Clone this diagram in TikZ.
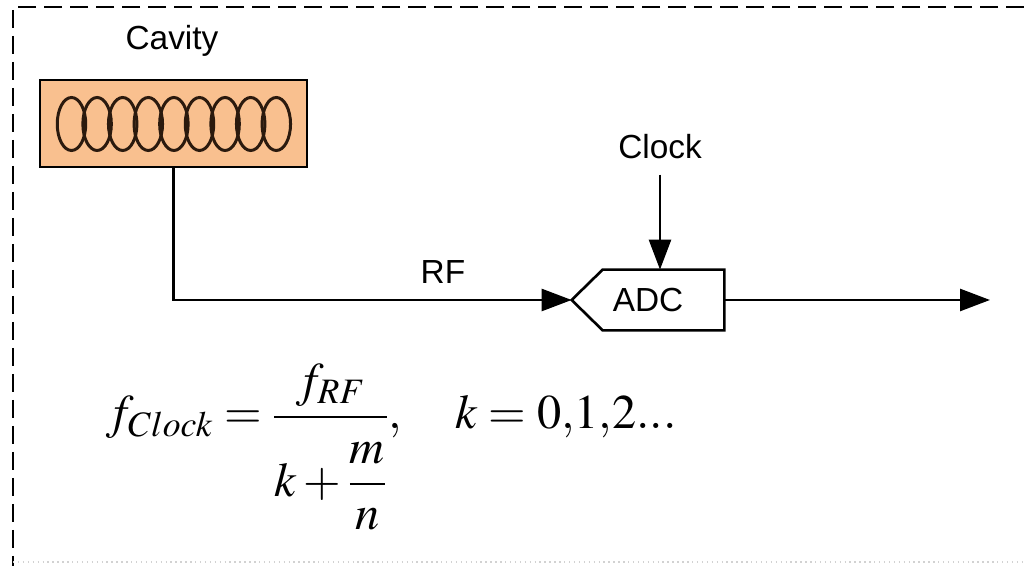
\documentclass[tikz,border=0pt]{standalone}
\usepackage{mathptmx}
\usepackage[no-math]{fontspec}
\setsansfont{Liberation Sans}
\usepackage{amsmath}
\usetikzlibrary{arrows.meta,positioning}
\definecolor{cavfill}{HTML}{F9C08F}
\definecolor{cavline}{HTML}{2B1A0E}
\tikzset{
  lbl/.style={font=\sffamily\fontsize{19}{22}\selectfont, inner sep=0pt},
  arr/.style={-{Triangle[length=6mm, width=4.4mm]}, line width=1.5pt},
  cavbox/.style={draw, fill=cavfill, line width=1.5pt, minimum width=5.34cm, minimum height=1.74cm, inner sep=0pt},
  cell/.style={draw=cavline, line width=1.7pt},
  adcbox/.style={minimum width=3.04cm, minimum height=1.2cm, inner sep=0pt, font=\sffamily\fontsize{19}{22}\selectfont},
  frame/.style={dash pattern=on 3.6mm off 1.6mm, line width=1.1pt},
}
\begin{document}
\begin{tikzpicture}
  \useasboundingbox (0,0) rectangle (20.48,11.32);
  % frame
  \draw[frame] (20.48,11.18) -- (0.26,11.18) -- (0.26,0);
  \draw[gray!35, dotted, line width=0.8pt] (0.26,0.08) -- (20.48,0.08);
  % cavity
  \node[cavbox] (cav) at (3.47,8.85) {};
  \foreach \i in {0,...,8}
    \draw[cell] ({1.43+0.512*\i},8.84) ellipse (0.285 and 0.53);
  \node[lbl] (cavlbl) at (3.44,10.5) {Cavity};
  % sampling
  \node[adcbox] (adc) at (12.96,5.32) {ADC};
  \draw[line width=1.5pt] (adc.west) -- ([xshift=6.2mm]adc.north west) -- (adc.north east)
    -- (adc.south east) -- ([xshift=6.2mm]adc.south west) -- cycle;
  \node[lbl] (rf) at (8.86,5.88) {RF};
  \node[lbl] (clk) at (13.2,8.38) {Clock};
  \coordinate (out) at (19.8,5.32);
  \draw[arr] (cav.south) |- (adc.west);
  \draw[arr] ([yshift=-3mm]clk.south) -- (clk.south |- adc.north);
  \draw[arr] (adc.east) -- (out);
  % clock condition
  \node[anchor=base west, inner sep=0pt, font=\fontsize{27.5}{32}\selectfont] (eq) at (2.12,2.74)
    {$\displaystyle f_{Clock}=\frac{f_{RF}}{\rule{0pt}{1.5em}k+\dfrac{m}{n}},\quad k=0{,}1{,}2...$};
\end{tikzpicture}
\end{document}
